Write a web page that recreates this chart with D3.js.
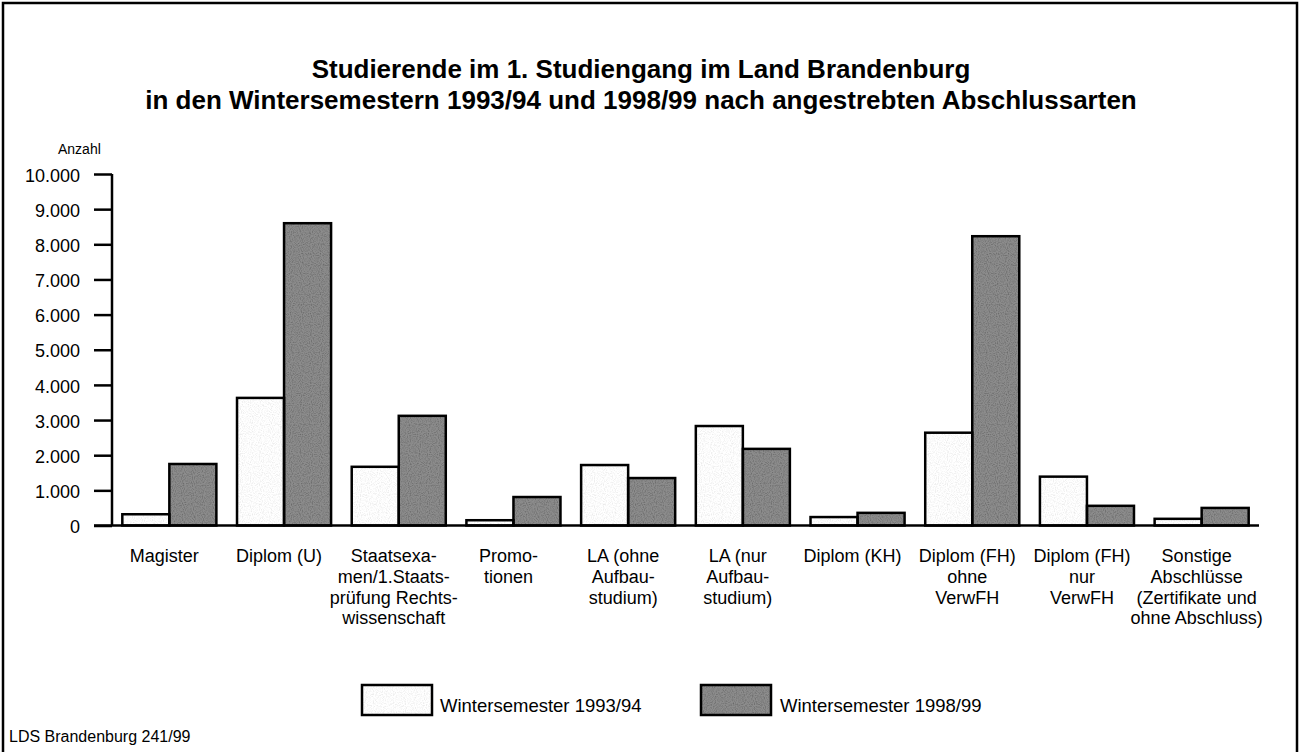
<!DOCTYPE html>
<html>
<head>
<meta charset="utf-8">
<script src="https://cdn.jsdelivr.net/npm/d3@7"></script>
<style>
  body { margin: 0; background: #fff; }
  svg { display: block; font-family: "Liberation Sans", Arial, sans-serif; }
</style>
</head>
<body>
<svg width="1301" height="752"></svg>
<script>
// data
const categories = [
  ["Magister"],
  ["Diplom (U)"],
  ["Staatsexa-", "men/1.Staats-", "prüfung Rechts-", "wissenschaft"],
  ["Promo-", "tionen"],
  ["LA (ohne", "Aufbau-", "studium)"],
  ["LA (nur", "Aufbau-", "studium)"],
  ["Diplom (KH)"],
  ["Diplom (FH)", "ohne", "VerwFH"],
  ["Diplom (FH)", "nur", "VerwFH"],
  ["Sonstige", "Abschlüsse", "(Zertifikate und", "ohne Abschluss)"],
];
const seriesNames = ["Wintersemester 1993/94", "Wintersemester 1998/99"];
const ws9394 = [320, 3630, 1670, 150, 1720, 2830, 240, 2640, 1390, 190];
const ws9899 = [1750, 8600, 3120, 810, 1350, 2180, 360, 8230, 560, 500];
const yTicks = [0, 1000, 2000, 3000, 4000, 5000, 6000, 7000, 8000, 9000, 10000];
const titleLines = [
  "Studierende im 1. Studiengang im Land Brandenburg",
  "in den Wintersemestern 1993/94 und 1998/99 nach angestrebten Abschlussarten",
];

const svg = d3.select("svg");
const fills = ["#ffffff", "#8c8c8c"];
const grain = ["grainLight", "grainDark"];

// speckled print texture (scan look)
const defs = svg.append("defs");
function addGrain(id, a, b) {
  const f = defs.append("filter").attr("id", id);
  f.append("feTurbulence")
    .attr("type", "fractalNoise").attr("baseFrequency", 0.9)
    .attr("numOctaves", 1).attr("seed", 3).attr("result", "noise");
  f.append("feColorMatrix")
    .attr("in", "noise").attr("type", "matrix")
    .attr("values", `${a} 0 0 0 ${b}  ${a} 0 0 0 ${b}  ${a} 0 0 0 ${b}  0 0 0 0 1`)
    .attr("result", "gray");
  f.append("feBlend").attr("in", "SourceGraphic").attr("in2", "gray").attr("mode", "multiply").attr("result", "mix");
  f.append("feComposite").attr("in", "mix").attr("in2", "SourceAlpha").attr("operator", "in");
}
addGrain("grainLight", 0.5, 0.72);
addGrain("grainDark", 1.1, 0.35);

const de = d3.formatLocale({ decimal: ",", thousands: ".", grouping: [3], currency: ["", ""] });
const fmt = de.format(",d");

const keys = categories.map((c) => c.join(" "));
const rows = keys.map((k, i) => ({ key: k, values: [ws9394[i], ws9899[i]] }));

// frame
svg.append("rect")
  .attr("x", 3).attr("y", 3)
  .attr("width", 1294).attr("height", 770)
  .attr("fill", "none").attr("stroke", "#000").attr("stroke-width", 2.5);

// title
svg.append("g")
  .selectAll("text")
  .data(titleLines)
  .join("text")
  .attr("x", 641)
  .attr("y", (d, i) => 78 + i * 31)
  .attr("text-anchor", "middle")
  .attr("font-size", 26)
  .attr("font-weight", "bold")
  .text((d) => d);

const x = d3.scaleBand().domain(keys).range([112, 1259]).paddingInner(0.18).paddingOuter(0.09);
const xSub = d3.scaleBand().domain([0, 1]).range([0, x.bandwidth()]);
const y = d3.scaleLinear().domain([0, 10000]).range([525.5, 174]);

svg.append("text")
  .attr("x", 58).attr("y", 154)
  .attr("font-size", 14)
  .text("Anzahl");

// y axis
const yAxis = svg.append("g")
  .attr("transform", "translate(112,0)")
  .call(d3.axisLeft(y).tickValues(yTicks).tickFormat(fmt).tickSize(18).tickPadding(14));
yAxis.select(".domain").attr("stroke-width", 2.5).attr("d", `M0,${y(10000)}V${y(0)}`);
yAxis.selectAll(".tick line").attr("stroke-width", 2.5);
yAxis.selectAll(".tick text")
  .attr("font-size", 18).attr("font-family", null).attr("fill", "#000")
  .attr("dy", "0.4em");

// bars: textured fill, then outline on top
const groups = svg.append("g")
  .selectAll("g")
  .data(rows)
  .join("g")
  .attr("transform", (d) => `translate(${x(d.key)},0)`);

groups.selectAll("rect.fill")
  .data((d) => d.values)
  .join("rect")
  .attr("class", "fill")
  .attr("x", (d, i) => xSub(i))
  .attr("y", (d) => y(d))
  .attr("width", xSub.bandwidth())
  .attr("height", (d) => y(0) - y(d))
  .attr("fill", (d, i) => fills[i])
  .attr("filter", (d, i) => `url(#${grain[i]})`);

groups.selectAll("rect.outline")
  .data((d) => d.values)
  .join("rect")
  .attr("class", "outline")
  .attr("x", (d, i) => xSub(i))
  .attr("y", (d) => y(d))
  .attr("width", xSub.bandwidth())
  .attr("height", (d) => y(0) - y(d))
  .attr("fill", "none")
  .attr("stroke", "#000")
  .attr("stroke-width", 2.5);

// x axis line
svg.append("line")
  .attr("x1", 94).attr("x2", 1259)
  .attr("y1", y(0)).attr("y2", y(0))
  .attr("stroke", "#000").attr("stroke-width", 2.5);

// category labels
svg.append("g")
  .selectAll("text")
  .data(categories)
  .join("text")
  .attr("text-anchor", "middle")
  .attr("font-size", 18)
  .each(function (lines, i) {
    const cx = x(keys[i]) + x.bandwidth() / 2 - 5;
    d3.select(this)
      .selectAll("tspan")
      .data(lines)
      .join("tspan")
      .attr("x", cx)
      .attr("y", (d, j) => 562 + j * 20.8)
      .text((d) => d);
  });

// legend
const legendX = [[362, 440], [701, 780]];
const legend = svg.append("g")
  .selectAll("g")
  .data(seriesNames)
  .join("g");
legend.append("rect")
  .attr("x", (d, i) => legendX[i][0])
  .attr("y", 685)
  .attr("width", 70).attr("height", 30)
  .attr("fill", (d, i) => fills[i])
  .attr("filter", (d, i) => `url(#${grain[i]})`);
legend.append("rect")
  .attr("x", (d, i) => legendX[i][0])
  .attr("y", 685)
  .attr("width", 70).attr("height", 30)
  .attr("fill", "none")
  .attr("stroke", "#000").attr("stroke-width", 2.5);
legend.append("text")
  .attr("x", (d, i) => legendX[i][1])
  .attr("y", 712)
  .attr("font-size", 18.5)
  .text((d) => d);

// source note
svg.append("text")
  .attr("x", 9).attr("y", 742)
  .attr("font-size", 16)
  .text("LDS Brandenburg 241/99");
</script>
</body>
</html>
